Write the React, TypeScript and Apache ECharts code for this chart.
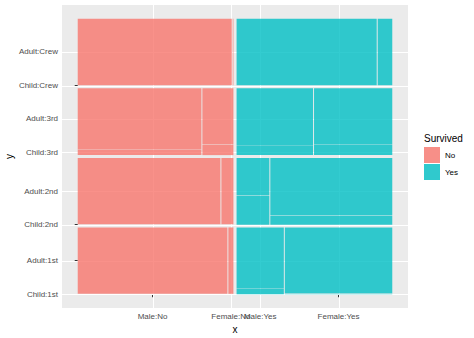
import React, { useEffect, useRef } from "react";
import * as echarts from "echarts";

// Levels (bottom-to-top for class, left-to-right for survived)
const survivedLevels = ["No", "Yes"];
const classLevels = ["1st", "2nd", "3rd", "Crew"];
const sexLevels = ["Male", "Female"];
const ageLevels = ["Child", "Adult"];

// Counts per class (1st, 2nd, 3rd, Crew)
const noMaleChild = [0, 0, 35, 0];
const noMaleAdult = [118, 154, 387, 670];
const noFemaleChild = [0, 0, 17, 0];
const noFemaleAdult = [4, 13, 89, 3];
const yesMaleChild = [5, 11, 13, 0];
const yesMaleAdult = [57, 14, 75, 192];
const yesFemaleChild = [1, 13, 14, 0];
const yesFemaleAdult = [140, 80, 76, 20];

const fillColors: Record<string, string> = {
  No: "rgba(248,118,109,0.8)",
  Yes: "rgba(0,191,196,0.8)",
};
const legendColors: Record<string, string> = { No: "#F78F88", Yes: "#30C9CD" };

const counts: Record<string, Record<string, Record<string, number[]>>> = {
  No: {
    Male: { Child: noMaleChild, Adult: noMaleAdult },
    Female: { Child: noFemaleChild, Adult: noFemaleAdult },
  },
  Yes: {
    Male: { Child: yesMaleChild, Adult: yesMaleAdult },
    Female: { Child: yesFemaleChild, Adult: yesFemaleAdult },
  },
};

const GAP_SURV = 0.01;
const GAP_CLASS = 0.01;
const GAP_SEX = 0.003;
const GAP_AGE = 0.0015;

type Cell = {
  surv: string;
  cls: string;
  sex: string;
  age: string;
  n: number;
  x0: number;
  x1: number;
  y0: number;
  y1: number;
};

function buildLayout(): Cell[] {
  const cells: Cell[] = [];
  const colW = (1 - GAP_SURV * (survivedLevels.length - 1)) / survivedLevels.length;
  const rowH = (1 - GAP_CLASS * (classLevels.length - 1)) / classLevels.length;
  survivedLevels.forEach((s, si) => {
    const cx0 = si * (colW + GAP_SURV);
    classLevels.forEach((c, ci) => {
      const cy0 = ci * (rowH + GAP_CLASS);
      const sexTotals = sexLevels.map((sx) =>
        ageLevels.reduce((a, ag) => a + counts[s][sx][ag][ci], 0)
      );
      const tot = sexTotals.reduce((a, b) => a + b, 0);
      const availW = colW - GAP_SEX * (sexLevels.length - 1);
      let x = cx0;
      sexLevels.forEach((sx, xi) => {
        const w = (availW * sexTotals[xi]) / tot;
        const availH = rowH - GAP_AGE * (ageLevels.length - 1);
        let y = cy0;
        ageLevels.forEach((ag) => {
          const n = counts[s][sx][ag][ci];
          const h = sexTotals[xi] > 0 ? (availH * n) / sexTotals[xi] : 0;
          cells.push({ surv: s, cls: c, sex: sx, age: ag, n, x0: x, x1: x + w, y0: y, y1: y + h });
          y += h + GAP_AGE;
        });
        x += w + GAP_SEX;
      });
    });
  });
  return cells;
}

const cells = buildLayout();

const xTicks: { v: number; label: string }[] = [];
survivedLevels.forEach((s) =>
  sexLevels.forEach((sx) => {
    const c = cells.find((k) => k.surv === s && k.sex === sx && k.cls === classLevels[0] && k.age === ageLevels[0])!;
    xTicks.push({ v: (c.x0 + c.x1) / 2, label: `${sx}:${s}` });
  })
);
const yTicks: { v: number; label: string }[] = [];
classLevels.forEach((cl) =>
  ageLevels.forEach((ag) => {
    const c = cells.find((k) => k.surv === survivedLevels[0] && k.sex === sexLevels[0] && k.cls === cl && k.age === ag)!;
    yTicks.push({ v: (c.y0 + c.y1) / 2, label: `${ag}:${cl}` });
  })
);

const nearestLabel = (ticks: { v: number; label: string }[], v: number) => {
  let best = ticks[0];
  ticks.forEach((t) => {
    if (Math.abs(t.v - v) < Math.abs(best.v - v)) best = t;
  });
  return best.label;
};

const FONT = "Liberation Sans, Arial, Helvetica, sans-serif";

export default function App() {
  const ref = useRef<HTMLDivElement>(null);
  useEffect(() => {
    if (!ref.current) return;
    const chart = echarts.init(ref.current, undefined, { renderer: "svg" });

    const rectSeries = survivedLevels.map((s) => ({
      type: "custom" as const,
      name: s,
      itemStyle: { color: fillColors[s] },
      encode: { x: [0, 1], y: [2, 3] },
      data: cells.filter((c) => c.surv === s && c.n > 0).map((c) => [c.x0, c.x1, c.y0, c.y1]),
      renderItem: (params: any, api: any) => {
        const p0 = api.coord([api.value(0), api.value(2)]);
        const p1 = api.coord([api.value(1), api.value(3)]);
        return {
          type: "rect",
          shape: { x: p0[0], y: p1[1], width: p1[0] - p0[0], height: p0[1] - p1[1] },
          style: { fill: api.visual("color") },
        };
      },
      z: 3,
    }));

    const vGrid = {
      type: "custom" as const,
      name: "vgrid",
      silent: true,
      encode: { x: 0, y: 1 },
      data: xTicks.map((t) => [t.v, 0.5]),
      renderItem: (params: any, api: any) => {
        const cs = params.coordSys;
        const x = Math.round(api.coord([api.value(0), 0.5])[0]) + 0.5;
        return {
          type: "line",
          shape: { x1: x, y1: cs.y, x2: x, y2: cs.y + cs.height },
          style: { stroke: "#FFFFFF", lineWidth: 1 },
        };
      },
      z: 2,
    };
    const hGrid = {
      type: "custom" as const,
      name: "hgrid",
      silent: true,
      encode: { x: 0, y: 1 },
      data: yTicks.map((t) => [0.5, t.v]),
      renderItem: (params: any, api: any) => {
        const cs = params.coordSys;
        const y = Math.round(api.coord([0.5, api.value(1)])[1]) + 0.5;
        return {
          type: "line",
          shape: { x1: cs.x, y1: y, x2: cs.x + cs.width, y2: y },
          style: { stroke: "#FFFFFF", lineWidth: 1 },
        };
      },
      z: 2,
    };

    chart.setOption({
      animation: false,
      textStyle: { fontFamily: FONT },
      grid: {
        left: 62,
        top: 5,
        width: 346,
        height: 303,
        containLabel: false,
        outerBoundsMode: "none",
        show: true,
        backgroundColor: "#EBEBEB",
        borderWidth: 0,
      },
      xAxis: {
        type: "value",
        min: -0.05,
        max: 1.05,
        name: "x",
        nameLocation: "middle",
        nameGap: 12,
        nameTextStyle: { fontSize: 10, color: "#000000", fontFamily: FONT },
        axisLine: { show: false },
        splitLine: { show: false },
        axisTick: {
          show: true,
          length: 3,
          customValues: xTicks.map((t) => t.v),
          lineStyle: { color: "#333333", width: 1 },
        },
        axisLabel: {
          show: true,
          customValues: xTicks.map((t) => t.v),
          formatter: (v: number) => nearestLabel(xTicks, v),
          fontSize: 8,
          color: "#4D4D4D",
          margin: 4,
          hideOverlap: false,
          fontFamily: FONT,
        },
      },
      yAxis: {
        type: "value",
        min: -0.05,
        max: 1.05,
        name: "y",
        nameLocation: "middle",
        nameGap: 48,
        nameRotate: 90,
        nameMoveOverlap: false,
        nameTextStyle: { fontSize: 10, color: "#000000", fontFamily: FONT },
        axisLine: { show: false },
        splitLine: { show: false },
        axisTick: {
          show: true,
          length: 3,
          customValues: yTicks.map((t) => t.v),
          lineStyle: { color: "#333333", width: 1 },
        },
        axisLabel: {
          show: true,
          customValues: yTicks.map((t) => t.v),
          formatter: (v: number) => nearestLabel(yTicks, v),
          fontSize: 8,
          color: "#4D4D4D",
          margin: 4,
          hideOverlap: false,
          fontFamily: FONT,
        },
      },
      legend: {
        orient: "vertical",
        left: 424,
        top: 147,
        itemWidth: 16,
        itemHeight: 16,
        itemGap: 1,
        icon: "rect",
        padding: 0,
        textStyle: { fontSize: 8, color: "#000000", fontFamily: FONT },
        data: survivedLevels.map((s) => ({ name: s, itemStyle: { color: legendColors[s] } })),
      },
      graphic: [
        {
          type: "text",
          x: 424,
          y: 138,
          style: {
            text: "Survived",
            fontSize: 10,
            fill: "#000000",
            fontFamily: FONT,
            verticalAlign: "middle",
            align: "left",
          },
        },
      ],
      series: [vGrid, hGrid, ...rectSeries],
    });
    return () => chart.dispose();
  }, []);
  return (
    <div
      ref={ref}
      style={{ position: "absolute", left: 0, top: 0, width: 474, height: 338 }}
    />
  );
}
